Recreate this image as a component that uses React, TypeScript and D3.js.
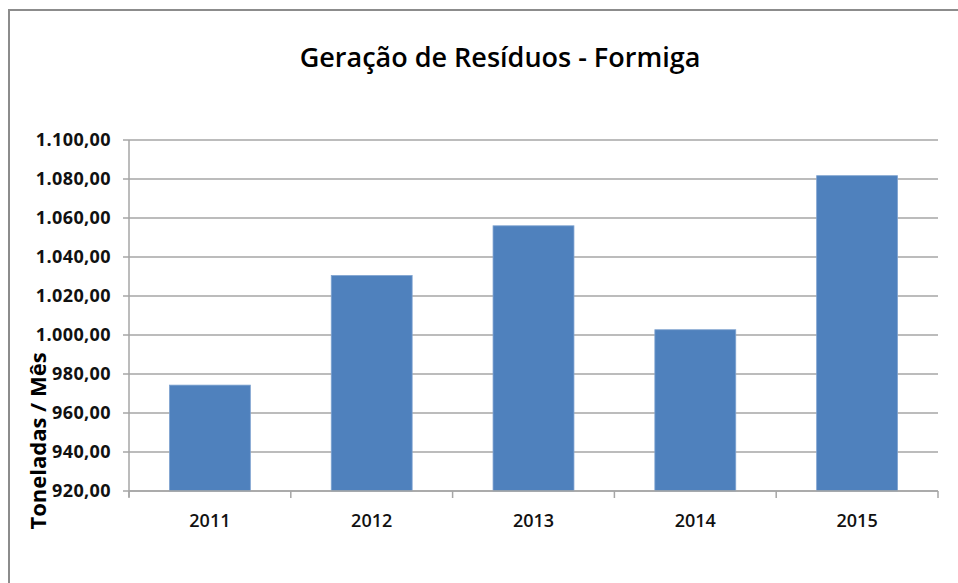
import React from "react";
import * as d3 from "d3";

const categories = ["2011", "2012", "2013", "2014", "2015"];
const values = [974.3, 1030.5, 1056.0, 1002.7, 1081.7];
const yTicks = [920, 940, 960, 980, 1000, 1020, 1040, 1060, 1080, 1100];
const title = "Geração de Resíduos - Formiga";
const yLabel = "Toneladas / Mês";

const W = 958;
const H = 583;
const plot = { left: 129, right: 938, top: 140, bottom: 491 };

const fmt = (v: number) => {
  const s = v.toFixed(2).replace(".", ",");
  const [i, d] = s.split(",");
  return i.replace(/\B(?=(\d{3})+(?!\d))/g, ".") + "," + d;
};

export default function App() {
  const x = d3.scaleBand<string>().domain(categories).range([plot.left, plot.right]).paddingInner(0.5).paddingOuter(0.25);
  const y = d3.scaleLinear().domain([920, 1100]).range([plot.bottom, plot.top]);
  const bandEdges = d3.range(categories.length + 1).map((i) => plot.left + (i * (plot.right - plot.left)) / categories.length);
  const font = "'Open Sans', 'Liberation Sans', sans-serif";
  return (
    <svg width={W} height={H} style={{ position: "absolute", left: 0, top: 0, background: "#fff" }} fontFamily={font}>
      <rect x={9} y={10} width={W + 20} height={H + 20} fill="#fff" stroke="#8c8c8c" strokeWidth={2} />
      <text x={500} y={67} textAnchor="middle" fontSize={27} fontWeight={600} fill="#000">{title}</text>
      {yTicks.map((t) => (
        <g key={t}>
          <line x1={plot.left - 6} x2={plot.right} y1={y(t)} y2={y(t)} stroke="#a6a6a6" strokeWidth={1.5} />
          <text x={111} y={y(t) + 6} textAnchor="end" fontSize={18} fontWeight={700} letterSpacing={0.4} fill="#111">{fmt(t)}</text>
        </g>
      ))}
      {categories.map((c, i) => (
        <rect key={c} x={x(c)!} width={x.bandwidth()} y={y(values[i])} height={plot.bottom - y(values[i])} fill="#4f81bd" stroke="#7fa3d0" strokeWidth={0.8} />
      ))}
      <line x1={plot.left} x2={plot.left} y1={plot.top} y2={plot.bottom + 6} stroke="#a6a6a6" strokeWidth={1.5} />
      <line x1={plot.left} x2={plot.right} y1={plot.bottom} y2={plot.bottom} stroke="#a6a6a6" strokeWidth={1.5} />
      {bandEdges.map((e, i) => (
        <line key={i} x1={e} x2={e} y1={plot.bottom} y2={plot.bottom + 7} stroke="#a6a6a6" strokeWidth={1.5} />
      ))}
      {categories.map((c) => (
        <text key={c} x={x(c)! + x.bandwidth() / 2} y={527} textAnchor="middle" fontSize={18} fontWeight={600} fill="#111">{c}</text>
      ))}
      <text transform="translate(37,441) rotate(-90)" textAnchor="middle" dominantBaseline="central" fontSize={22} fontWeight={700} fill="#000">{yLabel}</text>
    </svg>
  );
}
